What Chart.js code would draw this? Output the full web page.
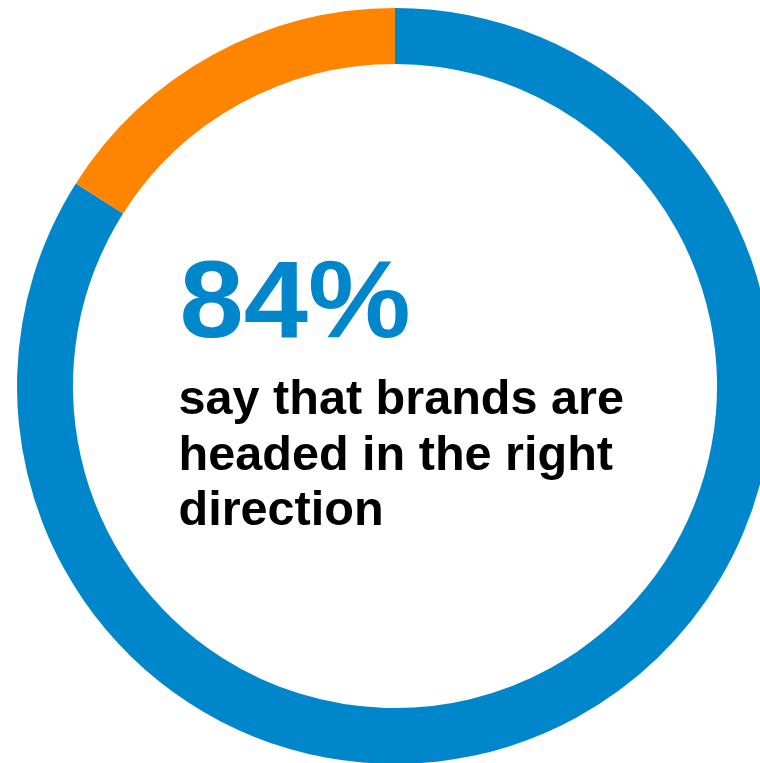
<!DOCTYPE html>
<html>
<head>
<meta charset="utf-8">
<script src="https://cdn.jsdelivr.net/npm/chart.js@4/dist/chart.umd.min.js"></script>
<style>
  html, body { margin: 0; padding: 0; background: #ffffff; overflow: hidden; }
  body { width: 760px; height: 763px; position: relative; }
  #wrap { position: absolute; left: 17px; top: 8px; width: 756px; height: 756px; }
</style>
</head>
<body>
<div id="wrap"><canvas id="donut"></canvas></div>
<script>
// Share of respondents by answer
const categories = ["Right direction", "Other"];
const shares = [84, 16];
const sliceColors = ["#0086CA", "#FF8400"];
const headline = "84%";
const captionLines = ["say that brands are", "headed in the right", "direction"];

// Writes the headline and caption inside the ring
const centerText = {
  id: "centerText",
  afterDraw(chart) {
    const ctx = chart.ctx;
    const meta = chart.getDatasetMeta(0).data[0];
    const cx = meta.x, cy = meta.y;
    ctx.save();
    ctx.textAlign = "left";
    ctx.textBaseline = "alphabetic";

    // headline, slightly widened
    ctx.save();
    ctx.translate(cx - 215.5, cy - 49);
    ctx.scale(1.05, 1);
    ctx.fillStyle = sliceColors[0];
    ctx.font = "bold 110px 'Liberation Sans', Arial, sans-serif";
    ctx.fillText(headline, 0, 0);
    ctx.restore();

    ctx.fillStyle = "#000000";
    ctx.font = "bold 48px 'Liberation Sans', Arial, sans-serif";
    const x = cx - 216.5;
    captionLines.forEach((line, i) => {
      ctx.save();
      ctx.translate(x, cy + 28 + i * 55.5);
      ctx.scale(1.012, 1);
      ctx.fillText(line, 0, 0);
      ctx.restore();
    });
    ctx.restore();
  }
};

new Chart(document.getElementById("donut"), {
  type: "doughnut",
  data: {
    labels: categories,
    datasets: [{
      data: shares,
      backgroundColor: sliceColors,
      borderWidth: 0
    }]
  },
  options: {
    responsive: true,
    maintainAspectRatio: false,
    animation: false,
    cutout: "85.2%",
    rotation: 0,
    layout: { padding: 0 },
    plugins: {
      legend: { display: false },
      tooltip: { enabled: false }
    }
  },
  plugins: [centerText]
});
</script>
</body>
</html>
